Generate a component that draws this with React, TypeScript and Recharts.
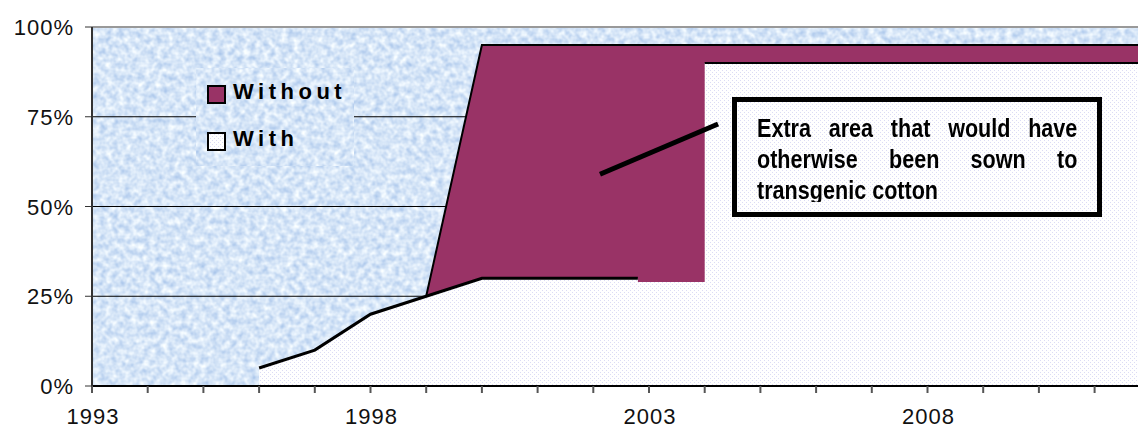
import { ComposedChart, Area, Line, XAxis, YAxis, CartesianGrid, ReferenceLine, Legend } from 'recharts'

// Share of cotton area sown to transgenic varieties, per year
const tickYears = [
  1993, 1994, 1995, 1996, 1997, 1998, 1999, 2000, 2001, 2002, 2003,
  2004, 2005, 2006, 2007, 2008, 2009, 2010, 2011, 2012, 2013,
]
const labelYears = [1993, 1998, 2003, 2008]
const percentTicks = [0, 25, 50, 75, 100]

const withoutYears = [1999, 2000, 2013]
const withoutShare = [25, 95, 95]

const withYears = [1996, 1997, 1998, 1999, 2000, 2002.8, 2002.8, 2004, 2004, 2013]
const withShare = [5, 10, 20, 25, 30, 30, 29, 29, 90, 90]

const seriesNames = ['Without', 'With']
const seriesFills = ['#993366', 'url(#dots)']

// Callout pointer, in chart units (year, percent)
const pointerFrom = { x: 2002.12, y: 59 }
const pointerTo = { x: 2004.24, y: 73 }

const rows = (years: number[], shares: number[]) => years.map((year, i) => ({ year, share: shares[i] }))

const withoutData = rows(withoutYears, withoutShare)
const withData = rows(withYears, withShare)
const withEdgeLow = withData.slice(0, 6)
const withEdgeHigh = withData.slice(8)

const FONT = "'Liberation Sans', Arial, sans-serif"

function NoiseFilter({ id }: { id: string }) {
  return (
    <filter id={id} x="0" y="0" width="100%" height="100%" colorInterpolationFilters="sRGB">
      <feTurbulence type="fractalNoise" baseFrequency="0.16" numOctaves={2} seed={7} />
      <feColorMatrix
        type="matrix"
        values="0.42 0 0 0 0.63  0.3 0 0 0 0.75  0.12 0 0 0 0.91  0 0 0 0 1"
      />
    </filter>
  )
}

function XTick({ x, y, payload }: any) {
  if (!labelYears.includes(payload.value)) return <g />
  return (
    <text x={x + 1} y={y} dy={29} textAnchor="middle" fontSize={22} letterSpacing={1} fill="#111" fontFamily={FONT}>
      {payload.value}
    </text>
  )
}

function YTick({ x, y, payload }: any) {
  return (
    <text x={x + 1} y={y} dy={8} textAnchor="end" fontSize={22} letterSpacing={1} fill="#111" fontFamily={FONT}>
      {payload.value}%
    </text>
  )
}

function LegendBox() {
  return (
    <svg width={158} height={98} style={{ display: 'block' }}>
      <defs>
        <NoiseFilter id="legendNoise" />
      </defs>
      <rect width={158} height={98} filter="url(#legendNoise)" />
      {seriesNames.map((name, i) => (
        <g key={name}>
          <rect x={12} y={18 + i * 47} width={17} height={17} fill={seriesFills[i]} stroke="#000" strokeWidth={2} />
          <text x={37} y={31 + i * 47} fontSize={22} fontWeight="bold" letterSpacing={4.5} fontFamily={FONT} fill="#000">
            {name}
          </text>
        </g>
      ))}
    </svg>
  )
}

const calloutLine = { textAlign: 'justify', textAlignLast: 'justify', whiteSpace: 'nowrap' } as const

export default function App() {
  return (
    <div
      style={{
        position: 'absolute',
        left: 0,
        top: 0,
        width: 1138,
        height: 430,
        overflow: 'hidden',
        background: '#fff',
        fontFamily: FONT,
      }}
    >
      <ComposedChart width={1206} height={430} margin={{ top: 27, right: 0, bottom: 0, left: 0 }}>
        <defs>
          <NoiseFilter id="tissueNoise" />
          <pattern id="tissue" patternUnits="userSpaceOnUse" x={0} y={0} width={1206} height={430}>
            <rect width={1206} height={430} filter="url(#tissueNoise)" />
          </pattern>
          <pattern id="dots" patternUnits="userSpaceOnUse" width={4} height={4}>
            <rect width={4} height={4} fill="#ffffff" />
            <rect x={0} y={0} width={1} height={1} fill="#dcdcf4" />
            <rect x={2} y={2} width={1} height={1} fill="#dcdcf4" />
          </pattern>
        </defs>
        <CartesianGrid vertical={false} stroke="#000" strokeWidth={1} fill="url(#tissue)" fillOpacity={1} />
        <XAxis
          dataKey="year"
          type="number"
          domain={[1993, 2013]}
          ticks={tickYears}
          interval={0}
          allowDataOverflow
          height={44}
          tickSize={7}
          tick={<XTick />}
          axisLine={{ stroke: '#000', strokeWidth: 2 }}
          tickLine={{ stroke: '#555', strokeWidth: 2 }}
        />
        <YAxis
          type="number"
          domain={[0, 100]}
          ticks={percentTicks}
          interval={0}
          width={92}
          tickSize={7}
          tickMargin={12}
          tick={<YTick />}
          axisLine={{ stroke: '#333', strokeWidth: 2 }}
          tickLine={{ stroke: '#333', strokeWidth: 1 }}
        />
        <ReferenceLine y={100} stroke="#999" strokeWidth={2} />
        <Area
          data={withoutData}
          dataKey="share"
          name={seriesNames[0]}
          type="linear"
          fill={seriesFills[0]}
          fillOpacity={1}
          stroke="#000"
          strokeWidth={2}
          isAnimationActive={false}
        />
        <Area
          data={withData}
          dataKey="share"
          name={seriesNames[1]}
          type="linear"
          fill={seriesFills[1]}
          fillOpacity={1}
          stroke="none"
          isAnimationActive={false}
        />
        <Line data={withEdgeLow} dataKey="share" type="linear" stroke="#000" strokeWidth={3} dot={false} legendType="none" isAnimationActive={false} />
        <Line data={withEdgeHigh} dataKey="share" type="linear" stroke="#000" strokeWidth={2} dot={false} legendType="none" isAnimationActive={false} />
        <ReferenceLine segment={[pointerFrom, pointerTo]} stroke="#000" strokeWidth={5} />
        <Legend
          layout="horizontal"
          verticalAlign="middle"
          align="center"
          content={() => <LegendBox />}
          wrapperStyle={{ position: 'absolute', left: 196, top: 68, width: 158, height: 98 }}
        />
      </ComposedChart>
      <div
        style={{
          position: 'absolute',
          left: 732,
          top: 97,
          width: 370,
          height: 120,
          boxSizing: 'border-box',
          border: '5px solid #000',
        }}
      />
      <div
        style={{
          position: 'absolute',
          left: 757,
          top: 113,
          width: 320,
          height: 89,
          overflow: 'hidden',
        }}
      >
        <div
          style={{
            width: 386,
            transform: 'scaleX(0.83)',
            transformOrigin: 'left top',
            fontFamily: FONT,
            fontWeight: 'bold',
            fontSize: 26,
            lineHeight: '31px',
            color: '#000',
          }}
        >
          <div style={calloutLine}>Extra area that would have</div>
          <div style={calloutLine}>otherwise been sown to</div>
          <div>transgenic cotton</div>
        </div>
      </div>
    </div>
  )
}
